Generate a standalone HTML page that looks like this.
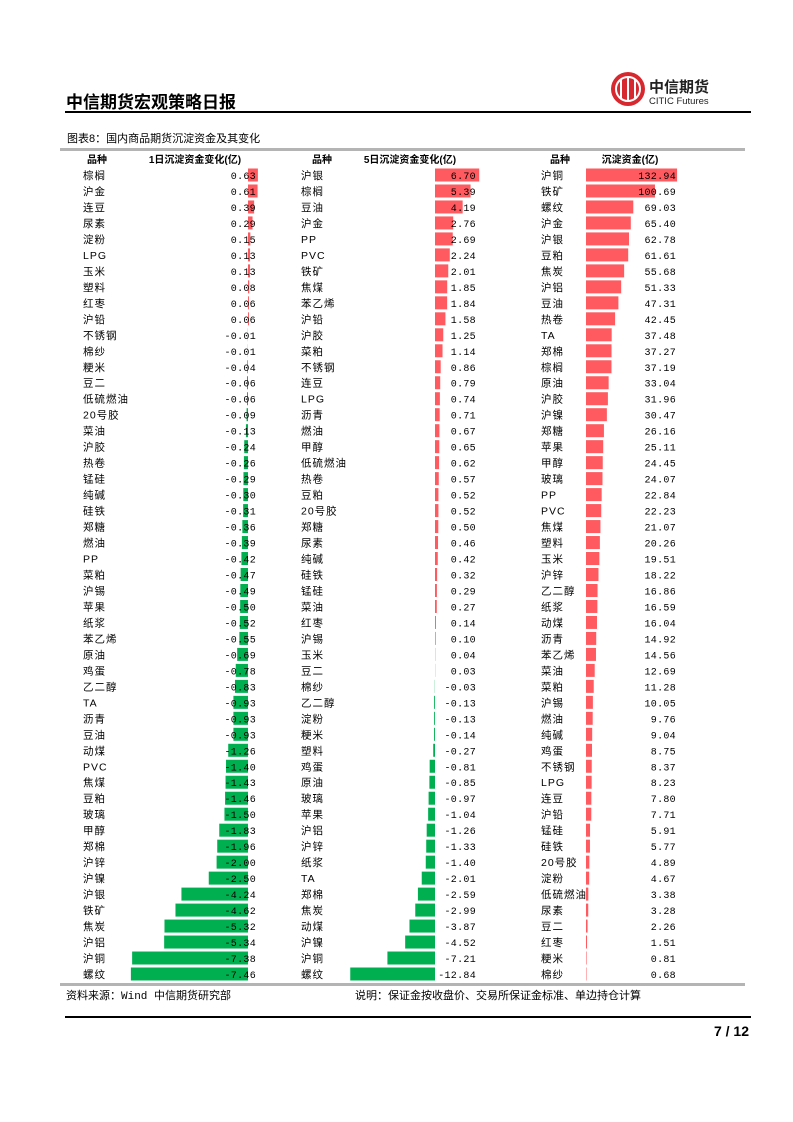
<!DOCTYPE html>
<html><head><meta charset="utf-8"><style>
html,body{margin:0;padding:0;background:#fff}
svg{display:block}
text{font-family:"Liberation Sans","Noto Sans CJK SC",sans-serif}
.m{font-family:"Liberation Mono","Noto Sans CJK SC",monospace}
</style></head><body>
<svg id="s" width="793" height="1122" viewBox="0 0 793 1122" xmlns="http://www.w3.org/2000/svg">
<text x="66" y="108" font-size="17" font-weight="bold" fill="#000">中信期货宏观策略日报</text>
<rect x="65" y="111" width="686" height="2" fill="#000"/>
<g>
<circle cx="628" cy="89" r="17" fill="#d7282f"/>
<circle cx="628" cy="89" r="12" fill="none" stroke="#fff" stroke-width="2"/>
<rect x="620" y="79" width="2" height="20" fill="#fff"/><rect x="627" y="77" width="2" height="24" fill="#fff"/><rect x="634" y="79" width="2" height="20" fill="#fff"/>
<text x="649" y="92" font-size="15" font-weight="bold" fill="#222">中信期货</text>
<text x="649" y="104" font-size="9.5" fill="#222">CITIC Futures</text>
</g>
<text x="67" y="142" font-size="11" fill="#000">图表8：国内商品期货沉淀资金及其变化</text>
<rect x="60" y="148" width="685" height="3" fill="#b4b4b4"/>
<rect x="60" y="983" width="685" height="3" fill="#b4b4b4"/>
<text x="66" y="999" font-size="11" class="m" fill="#000">资料来源：Wind 中信期货研究部</text>
<text x="355" y="999" font-size="11" fill="#000">说明：保证金按收盘价、交易所保证金标准、单边持仓计算</text>
<rect x="65" y="1016" width="686" height="2" fill="#000"/>
<text x="749" y="1036" font-size="14" font-weight="bold" text-anchor="end" fill="#000">7 / 12</text>
<g id="charts"></g>
</svg>
<script>
const names1=["棕榈","沪金","连豆","尿素","淀粉","LPG","玉米","塑料","红枣","沪铅","不锈钢","棉纱","粳米","豆二","低硫燃油","20号胶","菜油","沪胶","热卷","锰硅","纯碱","硅铁","郑糖","燃油","PP","菜粕","沪锡","苹果","纸浆","苯乙烯","原油","鸡蛋","乙二醇","TA","沥青","豆油","动煤","PVC","焦煤","豆粕","玻璃","甲醇","郑棉","沪锌","沪镍","沪银","铁矿","焦炭","沪铝","沪铜","螺纹"];
const vals1=[0.63,0.61,0.39,0.29,0.15,0.13,0.13,0.08,0.06,0.06,-0.01,-0.01,-0.04,-0.06,-0.06,-0.09,-0.13,-0.24,-0.26,-0.29,-0.30,-0.31,-0.36,-0.39,-0.42,-0.47,-0.49,-0.50,-0.52,-0.55,-0.69,-0.78,-0.83,-0.93,-0.93,-0.93,-1.26,-1.40,-1.43,-1.46,-1.50,-1.83,-1.96,-2.00,-2.50,-4.24,-4.62,-5.32,-5.34,-7.38,-7.46];
const names2=["沪银","棕榈","豆油","沪金","PP","PVC","铁矿","焦煤","苯乙烯","沪铅","沪胶","菜粕","不锈钢","连豆","LPG","沥青","燃油","甲醇","低硫燃油","热卷","豆粕","20号胶","郑糖","尿素","纯碱","硅铁","锰硅","菜油","红枣","沪锡","玉米","豆二","棉纱","乙二醇","淀粉","粳米","塑料","鸡蛋","原油","玻璃","苹果","沪铝","沪锌","纸浆","TA","郑棉","焦炭","动煤","沪镍","沪铜","螺纹"];
const vals2=[6.70,5.39,4.19,2.76,2.69,2.24,2.01,1.85,1.84,1.58,1.25,1.14,0.86,0.79,0.74,0.71,0.67,0.65,0.62,0.57,0.52,0.52,0.50,0.46,0.42,0.32,0.29,0.27,0.14,0.10,0.04,0.03,-0.03,-0.13,-0.13,-0.14,-0.27,-0.81,-0.85,-0.97,-1.04,-1.26,-1.33,-1.40,-2.01,-2.59,-2.99,-3.87,-4.52,-7.21,-12.84];
const names3=["沪铜","铁矿","螺纹","沪金","沪银","豆粕","焦炭","沪铝","豆油","热卷","TA","郑棉","棕榈","原油","沪胶","沪镍","郑糖","苹果","甲醇","玻璃","PP","PVC","焦煤","塑料","玉米","沪锌","乙二醇","纸浆","动煤","沥青","苯乙烯","菜油","菜粕","沪锡","燃油","纯碱","鸡蛋","不锈钢","LPG","连豆","沪铅","锰硅","硅铁","20号胶","淀粉","低硫燃油","尿素","豆二","红枣","粳米","棉纱"];
const vals3=[132.94,100.69,69.03,65.40,62.78,61.61,55.68,51.33,47.31,42.45,37.48,37.27,37.19,33.04,31.96,30.47,26.16,25.11,24.45,24.07,22.84,22.23,21.07,20.26,19.51,18.22,16.86,16.59,16.04,14.92,14.56,12.69,11.28,10.05,9.76,9.04,8.75,8.37,8.23,7.80,7.71,5.91,5.77,4.89,4.67,3.38,3.28,2.26,1.51,0.81,0.68];
const headers=[["品种","1日沉淀资金变化(亿)"],["品种","5日沉淀资金变化(亿)"],["品种","沉淀资金(亿)"]];
const NS="http://www.w3.org/2000/svg";
const root=document.getElementById("charts");
function mk(tag,attrs,parent){const e=document.createElementNS(NS,tag);for(const k in attrs)e.setAttribute(k,attrs[k]);(parent||root).appendChild(e);return e;}
const y0=175, step=15.98;
function rowY(i){return y0+i*step;}
const cfg=[
 {names:names1,vals:vals1,nameX:83,zero:248,scale:15.7,valX:256,hx:[97,195]},
 {names:names2,vals:vals2,nameX:301,zero:435,scale:6.6,valX:476,hx:[322,410]},
 {names:names3,vals:vals3,nameX:541,zero:586,scale:0.685,valX:676,hx:[560,630]}];
cfg.forEach((c,ci)=>{
 const g=mk("g",{});
 
 
 const h1=mk("text",{x:c.hx[0],y:163,"font-size":10,"font-weight":"bold","text-anchor":"middle"},g);h1.textContent=headers[ci][0];
 
 
 const h2=mk("text",{x:c.hx[1],y:163,"font-size":10,"font-weight":"bold","text-anchor":"middle"},g);h2.textContent=headers[ci][1];
 
 
 c.vals.forEach((v,i)=>{
  const cy=rowY(i);
  const w=Math.abs(v)*c.scale;
  const x=v>=0?c.zero:c.zero-w;
  const b=mk("rect",{x:x,y:cy-6.5,width:Math.max(w,0.01),height:13,fill:v>=0?"#ff5a5f":"#00b050"},g);
  
  
  const n=mk("text",{x:c.nameX,y:cy+4,"font-size":10.5,"letter-spacing":"1"},g);n.textContent=c.names[i];
  
  
  const t=mk("text",{x:c.valX,y:cy+4,"font-size":10,"text-anchor":"end","letter-spacing":"0.3",class:"m"},g);t.textContent=v.toFixed(2);
  
  
 });
});
</script>
</body></html>
